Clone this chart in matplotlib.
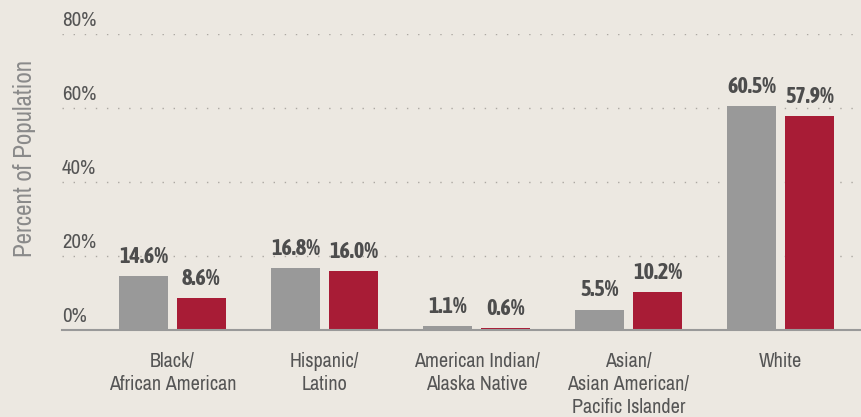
import matplotlib
matplotlib.use("Agg")
import matplotlib.pyplot as plt
import numpy as np
from matplotlib import font_manager
from matplotlib.transforms import blended_transform_factory

categories = [
    "Black/\nAfrican American",
    "Hispanic/\nLatino",
    "American Indian/\nAlaska Native",
    "Asian/\nAsian American/\nPacific Islander",
    "White",
]
series_a = [14.6, 16.8, 1.1, 5.5, 60.5]
series_b = [8.6, 16.0, 0.6, 10.2, 57.9]
y_ticks = [0, 20, 40, 60, 80]
y_tick_labels = ["0%", "20%", "40%", "60%", "80%"]

BG = "#ece8e1"
GRAY = "#999999"
RED = "#a81c36"
TEXT = "#555555"


def _weight(f):
    w = f.weight
    if isinstance(w, str):
        w = font_manager.weight_dict.get(w, 400)
    return int(w)


# prefer condensed faces; pick one that has a bold cut for the value labels
entries = [f for f in font_manager.fontManager.ttflist
           if "Condensed" in f.name or "Narrow" in f.name]
names = sorted({f.name for f in entries})
bold_names = [n for n in names
              if any(f.name == n and _weight(f) >= 600 and f.style == "normal" for f in entries)]
reg_names = [n for n in names
             if any(f.name == n and 350 <= _weight(f) <= 500 and f.style == "normal" for f in entries)]
family = (reg_names or names or ["Roboto"])[0]
bold_family = (bold_names or [family])[0]
plt.rcParams["font.family"] = [family, "DejaVu Sans"]

fig = plt.figure(figsize=(8.62, 4.17), dpi=100, facecolor=BG)
ax = fig.add_axes([62 / 862, 1 - 330 / 417, (860 - 62) / 862, (330 - 34) / 417])
ax.set_facecolor(BG)

x = np.arange(len(categories))
offset = 0.19
width = 0.322
bars_a = ax.bar(x - offset, series_a, width, color=GRAY, zorder=3)
bars_b = ax.bar(x + offset, series_b, width, color=RED, zorder=3)

for bars, vals in ((bars_a, series_a), (bars_b, series_b)):
    for bar, v in zip(bars, vals):
        ax.annotate(f"{v:.1f}%", (bar.get_x() + bar.get_width() / 2, v),
                    xytext=(0, 9.5), textcoords="offset points",
                    ha="center", va="baseline", fontsize=16,
                    family=[bold_family, "DejaVu Sans"],
                    fontweight="bold", color="#4d4d4d", zorder=4)

ax.set_xlim(-0.727, 4.523)
ax.set_ylim(0, 80)

# dotted gridlines, labels sit just above each line
trans = blended_transform_factory(ax.transAxes, ax.transData)
for t, lab in zip(y_ticks, y_tick_labels):
    if t > 0:
        ax.axhline(t, color="#aca8a2", lw=1.0, linestyle=(0, (1, 7)), zorder=1)
    ax.annotate(lab, (0, t), xycoords=trans, xytext=(0, 6),
                textcoords="offset points", ha="left", va="baseline",
                fontsize=15, color=TEXT)
ax.axhline(0, color="#999999", lw=1.5, zorder=4, clip_on=False)

ax.set_yticks([])
ax.set_xticks(x)
ax.set_xticklabels(categories, fontsize=14.5, color=TEXT, linespacing=1.25)
ax.tick_params(axis="x", length=0, pad=16)
for s in ax.spines.values():
    s.set_visible(False)

fig.text(25 / 862, 1 - 158 / 417, "Percent of Population", rotation=90,
         ha="center", va="center", fontsize=18, color="#8a8a8a")

fig.savefig("out.png", dpi=100, facecolor=BG)
